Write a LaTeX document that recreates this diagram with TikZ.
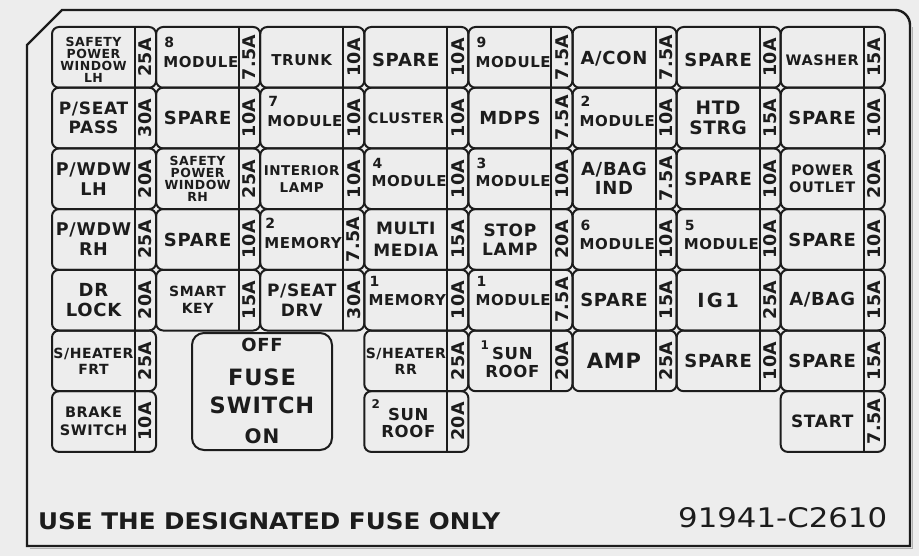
\documentclass[tikz,border=0pt]{standalone}
\usepackage{fontspec}
\usepackage{graphicx}
\newfontfamily\lblfont[LetterSpace=4]{DejaVu Sans}
\newfontfamily\ampfontfam[LetterSpace=2]{DejaVu Sans}
\newfontfamily\botfont{DejaVu Sans}
\definecolor{bg}{HTML}{EDEDED}
\definecolor{ink}{HTML}{1C1C1C}
\tikzset{
 cell/.style={draw=ink, line width=2pt, rounded corners=7pt},
 divl/.style={draw=ink, line width=2pt},
 lbl/.style={inner sep=0pt, align=center, text=ink},
 fs/.style 2 args={font=\lblfont\bfseries\fontsize{#1}{#2}\selectfont},
 ampl/.style={inner sep=0pt, rotate=90, text=ink, font=\ampfontfam\bfseries\fontsize{17.5}{17.5}\selectfont},
 numl/.style={inner sep=0pt, text=ink, font=\lblfont\bfseries\fontsize{14}{14}\selectfont},
 modl/.style={inner sep=0pt, text=ink, font=\lblfont\bfseries\fontsize{15}{15}\selectfont},
 framel/.style={draw=ink, line width=2.4pt, line join=miter},
}
% generic fuse: [label opts]{name}{col}{row}{label}{amp}
\newcommand\fusecell[6][]{%
  \pgfmathsetmacro\fx{52+104.1*(#3-1)}%
  \pgfmathsetmacro\fy{27+60.7*(#4-1)}%
  \draw[cell] (\fx,\fy) rectangle ++(104.1,60.7);
  \draw[divl] (\fx+83,\fy) -- (\fx+83,\fy+60.7);
  \node[lbl,#1] (#2) at (\fx+41.5,\fy+30.35) {#5};
  \node[ampl] (#2a) at (\fx+93.5,\fy+30.35) {#6};
}
% module-type fuse: {name}{col}{row}{num}{text}{amp}{dx}{numbase}{textbase}
\newcommand\modcell[9]{%
  \pgfmathsetmacro\fx{52+104.1*(#2-1)}%
  \pgfmathsetmacro\fy{27+60.7*(#3-1)}%
  \draw[cell] (\fx,\fy) rectangle ++(104.1,60.7);
  \draw[divl] (\fx+83,\fy) -- (\fx+83,\fy+60.7);
  \node[numl,anchor=base west] (#1n) at (\fx+#7+1,\fy+#8) {#4};
  \node[modl,anchor=base west] (#1) at (\fx+#7,\fy+#9) {#5};
  \node[ampl] (#1a) at (\fx+93.5,\fy+30.35) {#6};
}
% sun roof fuse: {name}{col}{row}{num}{amp}{numdx}{numbase}
\newcommand\suncell[7]{%
  \pgfmathsetmacro\fx{52+104.1*(#2-1)}%
  \pgfmathsetmacro\fy{27+60.7*(#3-1)}%
  \draw[cell] (\fx,\fy) rectangle ++(104.1,60.7);
  \draw[divl] (\fx+83,\fy) -- (\fx+83,\fy+60.7);
  \node[numl,anchor=base west,font=\lblfont\bfseries\fontsize{12}{12}\selectfont] (#1n) at (\fx+#6,\fy+#7) {#4};
  \node[lbl,fs={16.5}{17.5}] (#1) at (\fx+44,\fy+32) {SUN\\ROOF};
  \node[ampl] (#1a) at (\fx+93.5,\fy+30.35) {#5};
}
\begin{document}
\begin{tikzpicture}[x=1pt,y=-1pt]
\useasboundingbox[fill=bg] (0,0) rectangle (919,556);
% frame shadow and frame
\draw[gray!60, line width=1.6pt] (29.5,548.5) -- (912.5,548.5) -- (912.5,27);
\draw[framel] (27,45) -- (62,10) -- (895,10) .. controls (903.3,10) and (910,16.7) .. (910,25) -- (910,546) -- (27,546) -- cycle;

% Row 1
\fusecell[fs={12.5}{11.8},yshift=-2.5pt]{f11}{1}{1}{SAFETY\\POWER\\WINDOW\\LH}{25A}
\modcell{f12}{2}{1}{8}{MODULE}{7.5A}{7}{21}{41}
\fusecell[fs={15}{18},yshift=-2.5pt]{f13}{3}{1}{TRUNK}{10A}
\fusecell[fs={18}{19},yshift=-2.5pt]{f14}{4}{1}{SPARE}{10A}
\modcell{f15}{5}{1}{9}{MODULE}{7.5A}{7}{21}{41}
\fusecell[fs={18}{19},yshift=-1.5pt]{f16}{6}{1}{A/CON}{7.5A}
\fusecell[fs={18}{19},yshift=-2.5pt]{f17}{7}{1}{SPARE}{10A}
\fusecell[fs={14.5}{17},yshift=-3pt]{f18}{8}{1}{WASHER}{15A}
% Row 2
\fusecell[fs={17}{19}]{f21}{1}{2}{P/SEAT\\PASS}{30A}
\fusecell[fs={18}{19}]{f22}{2}{2}{SPARE}{10A}
\modcell{f23}{3}{2}{7}{MODULE}{10A}{7}{19}{38.5}
\fusecell[fs={14.5}{17}]{f24}{4}{2}{CLUSTER}{10A}
\fusecell[fs={18}{19}]{f25}{5}{2}{MDPS}{7.5A}
\modcell{f26}{6}{2}{2}{MODULE}{10A}{7}{19}{38.5}
\fusecell[fs={18.5}{20}]{f27}{7}{2}{HTD\\STRG}{15A}
\fusecell[fs={18}{19}]{f28}{8}{2}{SPARE}{10A}
% Row 3
\fusecell[fs={17.5}{20}]{f31}{1}{3}{P/WDW\\LH}{20A}
\fusecell[fs={12.5}{11.8}]{f32}{2}{3}{SAFETY\\POWER\\WINDOW\\RH}{25A}
\fusecell[fs={13.5}{17}]{f33}{3}{3}{INTERIOR\\LAMP}{10A}
\modcell{f34}{4}{3}{4}{MODULE}{10A}{7}{20}{38.5}
\modcell{f35}{5}{3}{3}{MODULE}{10A}{7}{20}{38.5}
\fusecell[fs={18}{19}]{f36}{6}{3}{A/BAG\\IND}{7.5A}
\fusecell[fs={18}{19}]{f37}{7}{3}{SPARE}{10A}
\fusecell[fs={14.5}{17}]{f38}{8}{3}{POWER\\OUTLET}{20A}
% Row 4
\fusecell[fs={17.5}{20}]{f41}{1}{4}{P/WDW\\RH}{25A}
\fusecell[fs={18}{19}]{f42}{2}{4}{SPARE}{10A}
\modcell{f43}{3}{4}{2}{MEMORY}{7.5A}{4}{19}{39}
\fusecell[fs={17}{22}]{f44}{4}{4}{MULTI\\MEDIA}{15A}
\fusecell[fs={17}{19}]{f45}{5}{4}{STOP\\LAMP}{20A}
\modcell{f46}{6}{4}{6}{MODULE}{10A}{7}{21}{40}
\modcell{f47}{7}{4}{5}{MODULE}{10A}{7}{21}{40}
\fusecell[fs={18}{19}]{f48}{8}{4}{SPARE}{10A}
% Row 5
\fusecell[fs={18}{20}]{f51}{1}{5}{DR\\LOCK}{20A}
\fusecell[fs={14}{17}]{f52}{2}{5}{SMART\\KEY}{15A}
\fusecell[fs={17}{20}]{f53}{3}{5}{P/SEAT\\DRV}{30A}
\modcell{f54}{4}{5}{1}{MEMORY}{10A}{4}{17}{35.5}
\modcell{f55}{5}{5}{1}{MODULE}{7.5A}{7}{17}{35.5}
\fusecell[fs={18}{19}]{f56}{6}{5}{SPARE}{15A}
\fusecell[fs={19}{19},font=\lblfont\bfseries\fontsize{19.5}{19}\addfontfeature{LetterSpace=12}\selectfont]{f57}{7}{5}{IG1}{25A}
\fusecell[fs={18}{19}]{f58}{8}{5}{A/BAG}{15A}
% Row 6
\fusecell[fs={14}{16}]{f61}{1}{6}{S/HEATER\\FRT}{25A}
\fusecell[fs={14}{16}]{f64}{4}{6}{S/HEATER\\RR}{25A}
\suncell{f65}{5}{6}{1}{20A}{12}{19}
\fusecell[fs={21}{21}]{f66}{6}{6}{AMP}{25A}
\fusecell[fs={18}{19}]{f67}{7}{6}{SPARE}{10A}
\fusecell[fs={18}{19}]{f68}{8}{6}{SPARE}{15A}
% Row 7
\fusecell[fs={14.5}{18}]{f71}{1}{7}{BRAKE\\SWITCH}{10A}
\suncell{f74}{4}{7}{2}{20A}{7}{17}
\fusecell[fs={17}{19}]{f78}{8}{7}{START}{7.5A}

% fuse switch
\node[draw=ink, line width=2pt, rounded corners=12pt, minimum width=140pt, minimum height=117pt, inner sep=0pt] (fsw) at (262,391.5) {};
\node[lbl,fs={18}{18}] (fswoff) at (262,345) {OFF};
\node[lbl,fs={22.5}{22}] (fswfuse) at (262,377) {FUSE};
\node[lbl,fs={22.5}{22}] (fswswitch) at (262,405) {SWITCH};
\node[lbl,fs={20}{20}] (fswon) at (262,436) {ON};

% bottom texts
\node[inner sep=0pt, anchor=base west, text=ink] (note) at (38,529) {\resizebox{462pt}{17pt}{\botfont\bfseries USE THE DESIGNATED FUSE ONLY}};
\node[inner sep=0pt, anchor=base west, text=ink] (partno) at (678,527) {\resizebox{209pt}{20pt}{\botfont 91941-C2610}};
\end{tikzpicture}
\end{document}
